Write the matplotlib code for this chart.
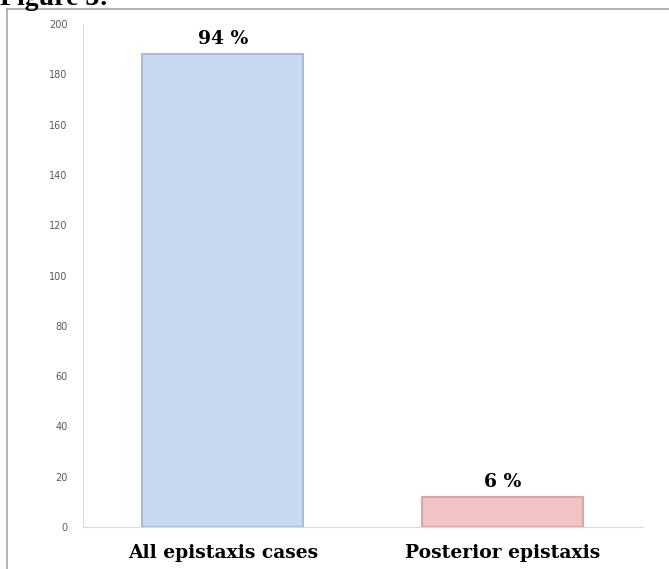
import matplotlib.pyplot as plt
from matplotlib.lines import Line2D

categories = ["All epistaxis cases", "Posterior epistaxis"]
counts = [188, 12]
pct_labels = ["94 %", "6 %"]
yticks = [0, 20, 40, 60, 80, 100, 120, 140, 160, 180, 200]

fig = plt.figure(figsize=(6.69, 5.69), dpi=100)
ax = fig.add_axes([0.124, 0.0738, 0.837, 0.884])

# outer frame (cropped page look)
H = 569.0
W = 669.0
fig.add_artist(Line2D([7 / W, 7 / W], [0, 1 - 9 / H], color="#a6a6a6", lw=1.2))
fig.add_artist(Line2D([7 / W, 1], [1 - 9 / H, 1 - 9 / H], color="#a6a6a6", lw=1.2))
fig.text(0.0, 1 - 5 / H, "Figure 3:", family="Liberation Serif", weight="bold",
         fontsize=20, va="baseline", ha="left")

x = range(len(categories))
face = ["#c6d9f1", "#f2c3c4"]
edge = ["#a9bcd6", "#d6a8a9"]
ax.bar(x, counts, width=0.575, color=face, edgecolor=edge, linewidth=1.5)

for i, (c, t) in enumerate(zip(counts, pct_labels)):
    ax.text(i, c + 2.5, t, ha="center", va="bottom", family="DejaVu Serif",
            weight="bold", fontsize=13.5)

ax.set_xlim(-0.5, 1.5)
ax.set_ylim(0, 200)
ax.set_yticks(yticks)
ax.set_xticks(list(x))
ax.set_xticklabels(categories, family="DejaVu Serif", weight="bold", fontsize=13.5)
ax.tick_params(axis="y", length=0, pad=11, labelsize=7, labelcolor="#595959")
ax.tick_params(axis="x", length=0, pad=12)
for s in ["top", "right"]:
    ax.spines[s].set_visible(False)
ax.spines["left"].set_color("#d9d9d9")
ax.spines["bottom"].set_color("#d9d9d9")

fig.savefig("out.png", dpi=100)
